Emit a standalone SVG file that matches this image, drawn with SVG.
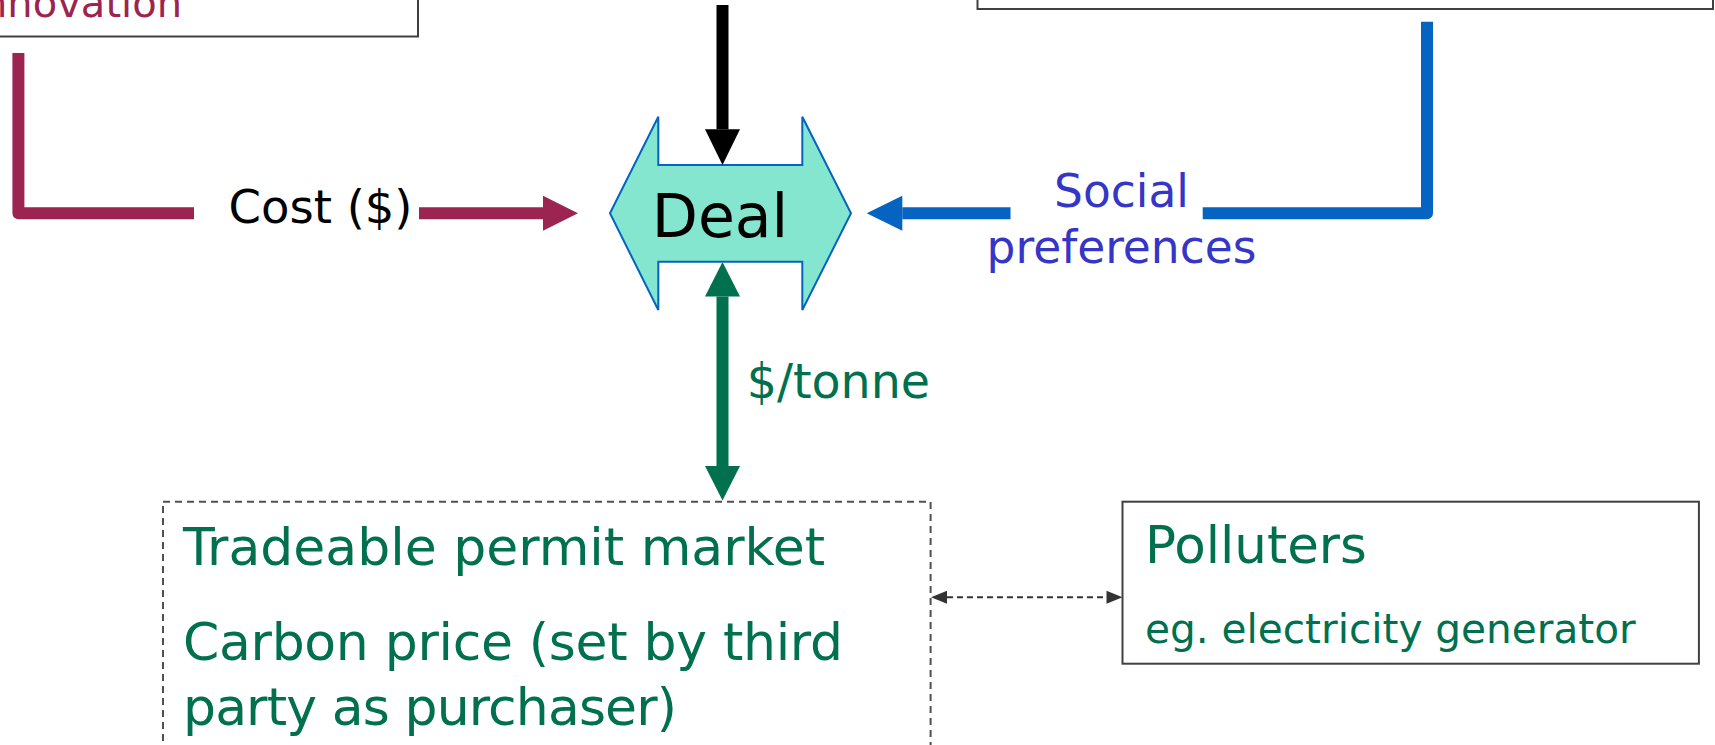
<svg xmlns="http://www.w3.org/2000/svg" width="1715" height="745" viewBox="0 0 1715 745">
<style>
text{font-family:"DejaVu Sans","Liberation Sans",sans-serif}
.box{fill:#fff;stroke:#404040;stroke-width:2}
.dbox{fill:#fff;stroke:#505050;stroke-width:2;stroke-dasharray:7 5}
.green{fill:#00704f}
.maroon{fill:#9b2451}
.thick{fill:none;stroke-width:12;stroke-linejoin:round}
</style>
<defs>
<marker id="hM" markerUnits="userSpaceOnUse" markerWidth="36" markerHeight="36" refX="0" refY="17.5" orient="auto" overflow="visible"><path d="M0,0 L35,17.5 L0,35 z" fill="#9b2451"/></marker>
<marker id="hK" markerUnits="userSpaceOnUse" markerWidth="36" markerHeight="36" refX="0" refY="17.5" orient="auto" overflow="visible"><path d="M0,0 L35.7,17.5 L0,35 z" fill="#000"/></marker>
<marker id="hB" markerUnits="userSpaceOnUse" markerWidth="36" markerHeight="36" refX="0" refY="17.5" orient="auto" overflow="visible"><path d="M0,0 L35.6,17.5 L0,35 z" fill="#0563c1"/></marker>
<marker id="hG" markerUnits="userSpaceOnUse" markerWidth="36" markerHeight="36" refX="0" refY="17.5" orient="auto-start-reverse" overflow="visible"><path d="M0,0 L34.5,17.5 L0,35 z" fill="#00704f"/></marker>
<marker id="hD" markerUnits="userSpaceOnUse" markerWidth="16" markerHeight="14" refX="0" refY="6.5" orient="auto-start-reverse" overflow="visible"><path d="M0,0 L16,6.5 L0,13 z" fill="#333"/></marker>
</defs>

<g id="innovation-box">
<rect class="box" x="-10" y="-40" width="428" height="76.5"/>
<text class="maroon" x="182" y="16.7" font-size="40" text-anchor="end">Innovation</text>
</g>

<g id="top-right-box">
<rect class="box" x="977.5" y="-40" width="735.5" height="49"/>
</g>

<g id="deal">
<polygon points="610,213.3 658.3,116.7 658.3,165 802.3,165 802.3,116.7 851,213.3 802.3,310 802.3,261.7 658.3,261.7 658.3,310" fill="#84e6cf" stroke="#0563c1" stroke-width="2"/>
<text x="720" y="237.3" font-size="60" text-anchor="middle" fill="#000">Deal</text>
</g>

<g id="permit-market">
<rect class="dbox" x="163" y="501.7" width="767.6" height="300"/>
<text class="green" x="183" y="565" font-size="52">Tradeable permit market</text>
<text class="green" x="183" y="660" font-size="52" textLength="660" lengthAdjust="spacing">Carbon price (set by third</text>
<text class="green" x="183" y="725" font-size="52" textLength="494" lengthAdjust="spacing">party as purchaser)</text>
</g>

<g id="polluters">
<rect class="box" x="1122.5" y="501.7" width="576.4" height="162"/>
<text class="green" x="1145" y="563.3" font-size="51.5">Polluters</text>
<text class="green" x="1145" y="643.3" font-size="40.6">eg. electricity generator</text>
</g>

<g id="connectors">
<path class="thick" d="M18.4,53 V213.3 H194" stroke="#9b2451"/>
<path class="thick" d="M419,213.3 H543" stroke="#9b2451" marker-end="url(#hM)"/>
<text x="320.5" y="222.7" font-size="46.5" text-anchor="middle" fill="#000">Cost ($)</text>

<path class="thick" d="M722.5,5 V129.3" stroke="#000" marker-end="url(#hK)"/>

<path class="thick" d="M1427,21.7 V213.3 H1202.7" stroke="#0563c1"/>
<path class="thick" d="M1010.5,213.3 H902.3" stroke="#0563c1" marker-end="url(#hB)"/>
<text x="1121.5" y="206.5" font-size="45.5" text-anchor="middle" fill="#3535c8">Social</text>
<text x="1121.5" y="263.3" font-size="45.5" text-anchor="middle" fill="#3535c8">preferences</text>

<path class="thick" d="M722.5,296.5 V466" stroke="#00704f" marker-start="url(#hG)" marker-end="url(#hG)"/>
<text class="green" x="746.7" y="398.3" font-size="47.5">$/tonne</text>

<path d="M947,597.3 H1106.5" fill="none" stroke="#333" stroke-width="2" stroke-dasharray="6 4" marker-start="url(#hD)" marker-end="url(#hD)"/>
</g>
</svg>
